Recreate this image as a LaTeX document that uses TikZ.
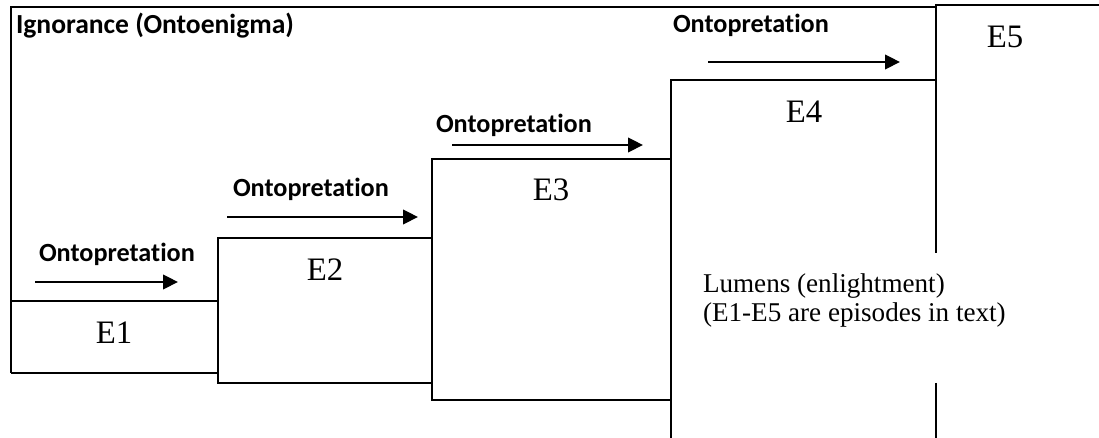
\documentclass[tikz,border=0pt]{standalone}
\usepackage{fontspec}
\setmainfont{Liberation Serif}
\newfontfamily\calfont{Carlito}[Ligatures=NoCommon]
\usetikzlibrary{arrows.meta}

\begin{document}
\begin{tikzpicture}[x=0.4425pt, y=-0.4425pt, line width=0.9pt,
  flow/.style={line width=0.9pt, -{Triangle[length=6.6pt, width=6.4pt]}},
  onto/.style={font=\calfont\bfseries\fontsize{11.6}{13}\selectfont, inner sep=0pt, anchor=base west},
  ep/.style={font=\fontsize{14.5}{16}\selectfont, inner sep=0pt, anchor=north},
  note/.style={font=\fontsize{12}{12.6}\selectfont, inner sep=0pt, anchor=north west, align=left}]
\useasboundingbox (0,0) rectangle (1099,438);
% steps
\path [draw] (11,373) -- (11,7) -- (936,7);
\path [draw] (11,301) -- (218,301);
\path [draw] (11,373) -- (218,373);
\path [draw] (218,238) rectangle (432,383);
\path [draw] (432,159) rectangle (671,400);
\path [draw] (671,438) -- (671,80) -- (936,80);
\path [draw] (1099,5) -- (936,5) -- (936,253);
\path [draw] (936,383) -- (936,438);
% labels
\node [onto, font=\calfont\bfseries\fontsize{12.2}{14}\selectfont] (ign) at (15,34) {Ignorance (Ontoenigma)};
\node [ep] (e1) at (114,321) {E1};
\node [ep] (e2) at (325,258) {E2};
\node [ep] (e3) at (551,178) {E3};
\node [ep] (e4) at (804,100) {E4};
\node [ep] (e5) at (1005,25) {E5};
\node [onto] (o1) at (38,262) {Ontopretation};
\node [onto] (o2) at (232,197) {Ontopretation};
\node [onto] (o3) at (435,133) {Ontopretation};
\node [onto] (o4) at (672,33) {Ontopretation};
\node [note] (lum) at (702,273) {Lumens (enlightment)\\(E1-E5 are episodes in text)};
% arrows
\coordinate (a1) at (35,282);  \coordinate (b1) at (178,282);
\coordinate (a2) at (227,217); \coordinate (b2) at (418,217);
\coordinate (a3) at (452,145); \coordinate (b3) at (643,145);
\coordinate (a4) at (708,62);  \coordinate (b4) at (900,62);
\path [draw, flow] (a1) -- (b1);
\path [draw, flow] (a2) -- (b2);
\path [draw, flow] (a3) -- (b3);
\path [draw, flow] (a4) -- (b4);
\end{tikzpicture}
\end{document}
